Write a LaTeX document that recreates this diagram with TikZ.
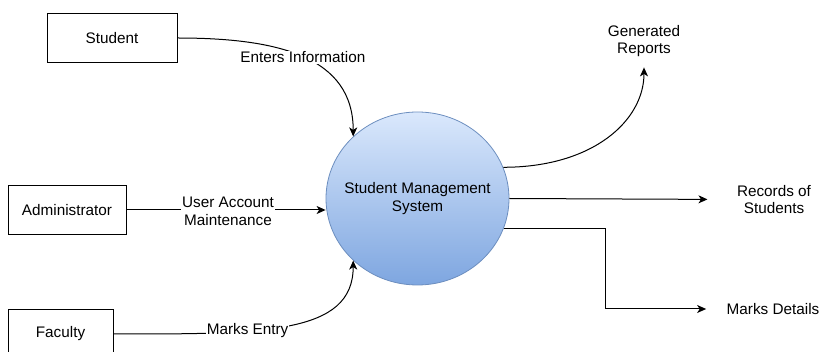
\documentclass[tikz,border=0pt]{standalone}
\usepackage{fontspec}
\setmainfont{Liberation Sans}
\usetikzlibrary{shapes.geometric,arrows.meta}
\definecolor{smstop}{HTML}{DAE8FC}
\definecolor{smsbot}{HTML}{7EA6E0}
\definecolor{smsline}{HTML}{6C8EBF}
\begin{document}
\begin{tikzpicture}[x=1pt,y=-1pt,
	every node/.style={font=\fontsize{15.3}{17.5}\selectfont},
	entity/.style={draw,line width=1pt,minimum height=49pt,inner sep=0pt},
	proc/.style={ellipse,draw=smsline,line width=0.8pt,top color=smstop,bottom color=smsbot,minimum width=183pt,minimum height=173pt,inner xsep=-10pt,inner ysep=0pt,align=center},
	lbl/.style={fill=white,align=center,inner sep=1pt},
	outlbl/.style={align=center},
	flow/.style={line width=1pt,-{Stealth[length=9pt,width=8pt,inset=2.5pt]}}]
		\useasboundingbox (0,0) rectangle (822,352);
		\node[entity,minimum width=130pt] (stu) at (112,38) {Student};
		\node[entity,minimum width=118pt] (adm) at (67,210) {Administrator};
		\node[entity,minimum width=105pt] (fac) at (60.5,334) {Faculty};
		\node[proc] (sms) at (417.5,198.5) {Student Management\\System};
		\node[outlbl] (rep) at (644,41) {Generated\\Reports};
		\node[outlbl] (rec) at (774,199.5) {Records of\\Students};
		\node[outlbl] (mrk) at (773,309) {Marks Details};
		\draw[flow] (stu.east) .. controls +(100,0) and +(0,-80) .. node[lbl,pos=0.5] (ent) {Enters Information} (sms.136);
		\draw[flow] (adm.east) -- node[lbl,pos=0.51,yshift=-1.5pt] (uam) {User Account\\Maintenance} (adm.east -| sms.west);
		\draw[flow] (fac.east) .. controls +(150,0) and +(0,74) .. node[lbl,pos=0.35] (mke) {Marks Entry} (sms.224);
		\draw[flow,shorten >=7pt] (sms.20) .. controls +(90,0) and +(0,60) .. (rep.south);
		\draw[flow,shorten >=26pt] (sms.east) -- (rec.west);
		\draw[flow,shorten >=17pt] (sms.-19) -- ++(102,0) |- (mrk.west);
\end{tikzpicture}
\end{document}
